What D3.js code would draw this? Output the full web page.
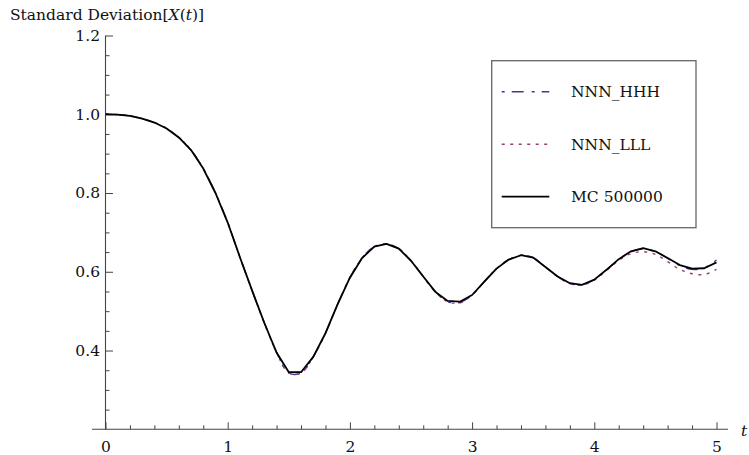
<!DOCTYPE html>
<html>
<head>
<meta charset="utf-8">
<script src="https://cdn.jsdelivr.net/npm/d3@7"></script>
<style>
body{margin:0;background:#fff}
</style>
</head>
<body>
<div id="chart"></div>
<script>
// time grid (step 0.1)
var tValues = [0,0.1,0.2,0.3,0.4,0.5,0.6,0.7,0.8,0.9,1,1.1,1.2,1.3,1.4,1.5,1.6,1.7,1.8,1.9,2,2.1,2.2,2.3,2.4,2.5,2.6,2.7,2.8,2.9,3,3.1,3.2,3.3,3.4,3.5,3.6,3.7,3.8,3.9,4,4.1,4.2,4.3,4.4,4.5,4.6,4.7,4.8,4.9,5]

var mcValues = [1.000,0.999,0.996,0.989,0.979,0.964,0.941,0.909,0.862,0.800,0.725,0.637,0.552,0.470,0.395,0.345,0.345,0.384,0.444,0.518,0.585,0.635,0.664,0.671,0.659,0.628,0.588,0.549,0.526,0.524,0.541,0.575,0.608,0.631,0.642,0.636,0.612,0.588,0.571,0.567,0.580,0.605,0.632,0.652,0.660,0.652,0.635,0.617,0.608,0.609,0.624]

var hhhValues = [1.000,0.999,0.996,0.989,0.979,0.964,0.941,0.909,0.862,0.800,0.725,0.637,0.552,0.470,0.395,0.343,0.343,0.384,0.444,0.518,0.585,0.635,0.664,0.671,0.659,0.628,0.588,0.549,0.524,0.522,0.541,0.575,0.608,0.631,0.642,0.636,0.612,0.588,0.570,0.567,0.580,0.605,0.631,0.651,0.658,0.651,0.634,0.616,0.606,0.610,0.630]

var lllValues = [1.000,0.999,0.996,0.989,0.979,0.964,0.941,0.909,0.862,0.800,0.725,0.637,0.552,0.470,0.395,0.343,0.343,0.384,0.444,0.518,0.585,0.635,0.664,0.671,0.659,0.628,0.588,0.549,0.524,0.521,0.541,0.575,0.608,0.631,0.642,0.636,0.612,0.588,0.570,0.566,0.579,0.603,0.629,0.646,0.651,0.644,0.626,0.606,0.595,0.593,0.606]

var xTicks = [0,1,2,3,4,5]
var yTicks = [0.4,0.6,0.8,1.0,1.2]
var yLabel = "Standard Deviation"
var legendNames = ["NNN_HHH","NNN_LLL","MC 500000"]

var W = 749, H = 455
var fontSize = 15.5
var serif = "DejaVu Serif, serif"

var svg = d3.select("#chart").append("svg").attr("width",W).attr("height",H)

var x = d3.scaleLinear().domain([0,5]).range([105.5,716.5])
var y = d3.scaleLinear().domain([0.2,1.2]).range([429.3,35.5])

var axisColor = "#444"

// minor ticks
var xMinor = d3.range(0,5.01,0.2).filter(function(d){return Math.abs(d-Math.round(d))>1e-6})
var yMinor = d3.range(0.25,1.2,0.05).filter(function(d){return Math.abs(d*5-Math.round(d*5))>1e-6})

var gx = svg.append("g").attr("transform","translate(0,"+y(0.2)+")")
gx.call(d3.axisBottom(x).tickValues(xMinor).tickSizeInner(-4).tickSizeOuter(0).tickFormat(""))
gx.call(function(g){g.select(".domain").remove()})
var gx2 = svg.append("g").attr("transform","translate(0,"+y(0.2)+")")
gx2.call(d3.axisBottom(x).tickValues(xTicks).tickSizeInner(-7).tickSizeOuter(0).tickPadding(11.5).tickFormat(d3.format("d")))
gx2.call(function(g){g.select(".domain").remove()})

var gy = svg.append("g").attr("transform","translate("+x(0)+",0)")
gy.call(d3.axisLeft(y).tickValues(yMinor).tickSizeInner(-4).tickSizeOuter(0).tickFormat(""))
gy.call(function(g){g.select(".domain").remove()})
var gy2 = svg.append("g").attr("transform","translate("+x(0)+",0)")
gy2.call(d3.axisLeft(y).tickValues(yTicks).tickSizeInner(-7.5).tickSizeOuter(0).tickPadding(5.5).tickFormat(d3.format(".1f")))
gy2.call(function(g){g.select(".domain").remove()})

// d3 axis puts font-family on the group; replace it
svg.selectAll("g").attr("font-family",serif).attr("font-size",fontSize)
svg.selectAll(".tick line").attr("stroke",axisColor).attr("stroke-width",1)
svg.selectAll(".tick text").attr("fill","#111")

// axis lines
svg.append("line").attr("x1",x(-0.11)).attr("x2",x(5.094)).attr("y1",y(0.2)).attr("y2",y(0.2))
	.attr("stroke",axisColor).attr("stroke-width",1.1)
svg.append("line").attr("x1",x(0)).attr("x2",x(0)).attr("y1",y(0.2)).attr("y2",y(1.2))
	.attr("stroke",axisColor).attr("stroke-width",1.1)

// axis labels
var lab = svg.append("text").attr("x",10).attr("y",20).attr("font-size",fontSize).attr("font-family",serif).attr("fill","#111")
lab.append("tspan").text(yLabel+"[")
lab.append("tspan").attr("font-style","italic").text("X")
lab.append("tspan").text("(")
lab.append("tspan").attr("font-style","italic").text("t")
lab.append("tspan").text(")]")

svg.append("text").attr("x",741).attr("y",436).attr("font-size",fontSize).attr("font-family",serif)
	.attr("font-style","italic").attr("fill","#111").text("t")

// series
var series = [
	{name:legendNames[0],v:hhhValues,color:"#3d3d99",dash:"3,7,12,8",w:1.4,curve:d3.curveCatmullRom},
	{name:legendNames[1],v:lllValues,color:"#993d71",dash:"3,5.5",w:1.4,curve:d3.curveCatmullRom},
	{name:legendNames[2],v:mcValues,color:"#000",dash:null,w:1.8,curve:d3.curveLinear}
]

for (var i in series){
	var s = series[i]
	var line = d3.line().x(function(d,j){return x(tValues[j])}).y(function(d){return y(d)}).curve(s.curve)
	svg.append("path").datum(s.v).attr("d",line).attr("fill","none")
		.attr("stroke",s.color).attr("stroke-width",s.w)
		.attr("stroke-dasharray",s.dash)
		.attr("stroke-linejoin","round")
}

// legend
var lg = svg.append("g")
lg.append("rect").attr("x",491.7).attr("y",60.7).attr("width",204.3).attr("height",167)
	.attr("fill","#fff").attr("stroke","#666").attr("stroke-width",1.3)
var rowY = [91.7,144.3,196.7]
for (var i in series){
	var s = series[i]
	lg.append("line").attr("x1",501.7).attr("x2",549.3).attr("y1",rowY[i]).attr("y2",rowY[i])
		.attr("stroke",s.color).attr("stroke-width",s.w).attr("stroke-dasharray",s.dash)
	lg.append("text").attr("x",571).attr("y",rowY[i]+5.5).attr("font-size",fontSize).attr("font-family",serif)
		.attr("fill","#111").text(s.name)
}
</script>
</body>
</html>
